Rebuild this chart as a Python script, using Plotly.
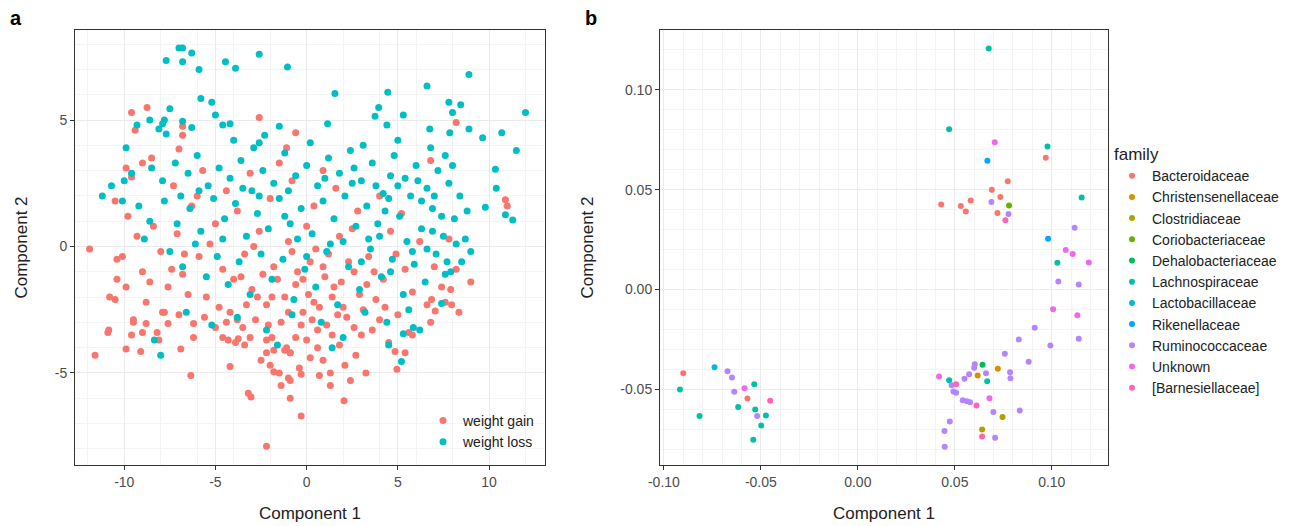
import plotly.graph_objects as go

# ---- panel a: weight gain / weight loss (approximate) ----
gain_pts = [
    (-9.6, 5.3), (-8.75, 5.5), (-9.4, 4.6), (-6.8, 4.75), (-6.8, 4.4), (-7.0, 3.85), (-2.6, 5.1),
    (-0.6, 4.5), (-1.1, 3.9), (-8.5, 3.5), (-9.0, 3.3), (-9.9, 3.1), (-9.6, 2.75), (8.2, 4.9),
    (6.8, 3.4), (10.9, 1.85), (11.0, 1.6), (-11.6, -4.3), (-10.85, -3.3), (-10.9, -3.4), (-10.5, -2.1),
    (-10.4, -1.3), (-10.4, -0.5), (-11.9, -0.1), (-9.9, -4.05), (-9.1, -4.15), (-9.6, -3.5), (-9.5, -2.9),
    (-8.8, -3.05), (-9.0, -3.4), (-8.1, -3.7), (-7.6, -3.05), (-7.9, -2.6), (-6.9, -4.05), (-6.35, -5.1),
    (-6.2, -3.05), (-4.2, -4.75), (-4.6, -3.6), (-4.3, -3.7), (-3.8, -2.9), (-3.75, -3.65), (-3.4, -3.9),
    (-3.1, -3.6), (-3.2, -5.8), (-3.05, -5.95), (-2.2, -7.9), (-2.2, -3.7), (-2.2, -4.2), (-1.8, -4.1),
    (-2.0, -4.7), (-1.8, -4.95), (-1.4, -5.5), (-1.0, -5.2), (-0.9, -5.3), (-0.9, -6.0), (-0.3, -6.7),
    (-0.3, -5.05), (-1.1, -4.0), (-0.9, -4.2), (2.05, -6.1), (1.3, -5.5), (3.25, -5.0), (0.7, -5.1),
    (4.95, -4.85), (4.85, -4.15), (5.4, -4.2), (5.8, -3.5), (7.05, -2.55), (8.35, -2.6), (7.9, -1.7),
    (9.0, -1.4), (7.95, -2.3), (6.85, -2.1),
    (-10.5, 1.8), (-9.8, 1.2), (-9.3, 0.4), (-10.1, -0.4), (-9.0, -1.0), (-8.4, 0.8), (-8.0, -0.2),
    (-7.6, -1.6), (-8.8, -2.2), (-7.1, 0.5), (-6.8, -1.1), (-6.3, 1.6), (-5.9, -0.4), (-5.5, -2.0),
    (-5.0, 0.9), (-4.6, -0.9), (-4.2, -2.6), (-3.8, 1.4), (-3.4, -0.3), (-3.0, -1.7), (-2.6, 0.6),
    (-2.2, -2.3), (-1.8, -0.8), (-1.4, -3.0), (-1.0, 0.2), (-0.6, -1.5), (-0.2, -2.6), (0.2, -0.6),
    (0.6, -3.3), (1.0, -1.2), (1.4, -2.0), (1.8, 0.4), (2.2, -2.8), (2.6, -1.0), (3.0, -3.5),
    (3.4, -0.4), (3.8, -2.1), (4.2, -1.3), (4.6, 0.6), (5.0, -2.7), (5.4, -0.9), (5.8, -1.8),
    (6.2, 0.2), (6.6, -2.3), (7.0, -0.8), (7.4, -1.6), (7.8, 0.3), (8.2, -0.9),
    (-7.3, 2.4), (-5.7, 3.0), (-4.4, 2.2), (-3.1, 2.9), (-2.0, 1.9), (-0.8, 2.6), (0.4, 1.6),
    (1.6, 2.3), (2.8, 1.4), (4.0, 2.0), (5.2, 1.3), (-6.0, 2.0), (-1.5, 3.3), (0.9, 3.0),
    (-9.5, -3.0), (-8.2, -3.4), (-7.0, -2.7), (-6.2, -3.6), (-5.0, -3.2), (-3.9, -3.8), (-2.8, -2.9),
    (-1.9, -3.6), (-0.9, -4.2), (0.0, -3.7), (0.9, -4.5), (1.8, -3.9), (2.7, -4.3), (3.6, -3.3),
    (4.5, -3.8), (-0.4, -4.8), (1.3, -5.0), (2.4, -5.3), (-2.5, -4.5),
    (-0.5, -1.0), (0.1, -1.9), (0.7, -2.4), (1.2, -0.3), (-1.2, -2.0), (-0.3, -3.1), (0.5, -0.1),
    (1.5, -1.6), (2.0, -2.4), (2.3, -0.6), (-1.6, -1.3), (-2.4, -1.1), (3.1, -2.5), (0.3, -2.9),
    (-0.8, -0.2), (1.1, -3.1), (1.9, -1.4), (-2.1, -3.1), (-3.3, -2.3), (2.9, -1.9), (3.7, -1.0),
    (4.3, -2.4), (-4.0, -1.3), (-3.5, -3.2), (-4.8, -2.4), (-6.5, -1.9), (-7.8, -2.6), (-9.9, -1.6),
    (-10.8, -2.0), (-8.6, -1.4), (-5.3, 0.1), (-2.9, 0.0), (0.0, 0.8), (2.5, 0.7), (4.9, -0.3),
    (6.8, -3.0), (7.6, -2.2), (5.6, -3.4), (-1.2, -4.1), (0.6, -4.0),
    (-0.2, -1.3), (0.4, -2.2), (0.9, -0.8), (1.7, -2.7), (-1.0, -2.6), (-0.6, -3.6), (1.4, -3.5),
    (2.6, -3.2), (-1.9, -2.0), (-2.7, -2.0), (-3.6, -1.2), (-4.4, -3.0), (-5.6, -2.8), (-6.7, -0.3),
    (-7.4, -0.9), (3.3, -1.5), (4.0, -2.9), (0.2, -4.4), (-1.5, -5.0), (2.1, -4.7),
]
loss_pts = [
    (-6.8, 7.85), (-7.0, 7.85), (-6.3, 7.65), (-7.7, 7.35), (-6.8, 7.3), (-5.9, 7.0), (-4.45, 7.3),
    (-3.9, 7.05), (-2.6, 7.6), (-1.05, 7.1), (-5.8, 5.85), (-5.2, 5.7), (-5.0, 5.2), (-7.5, 5.45),
    (-8.6, 5.0), (-7.8, 5.0), (-7.9, 4.85), (-8.1, 4.65), (-7.7, 4.45), (-9.3, 4.8), (-6.8, 4.95),
    (-6.3, 4.7), (-4.6, 4.8), (-4.2, 4.85), (-2.3, 4.4), (-1.5, 4.75), (-2.6, 4.1), (-9.9, 3.9),
    (-10.7, 2.4), (-11.2, 2.0), (-10.0, 2.6), (-10.1, 1.8),
    (8.9, 6.8), (6.6, 6.35), (1.55, 6.05), (4.45, 6.1), (7.8, 5.7), (8.45, 5.6), (8.0, 5.3),
    (12.0, 5.3), (3.95, 5.5), (3.75, 5.15), (5.3, 5.2), (1.15, 4.85), (4.4, 4.8), (6.75, 4.65),
    (7.85, 4.5), (8.9, 4.65), (9.65, 4.3), (10.7, 4.5), (11.5, 3.8), (10.35, 3.05), (10.4, 2.3),
    (9.8, 1.55), (11.3, 1.05), (10.9, 1.25),
    (-8.35, -3.7), (-8.0, -4.3), (5.2, -4.55), (5.3, -3.45), (5.85, -3.2), (7.4, -2.25), (9.0, -0.2),
    (4.5, -3.9), (7.6, -1.1), (7.7, -0.6),
    (-8.5, 3.1), (-7.9, 2.6), (-7.2, 3.3), (-6.5, 2.9), (-6.0, 3.6), (-5.4, 2.4), (-4.8, 3.1),
    (-4.2, 2.7), (-3.6, 3.4), (-3.0, 2.2), (-2.4, 3.0), (-1.8, 2.5), (-1.2, 3.7), (-0.6, 2.8),
    (0.0, 3.2), (0.6, 2.4), (1.2, 3.5), (1.8, 2.9), (2.4, 3.8), (3.0, 2.6), (3.6, 3.3), (4.2, 2.1),
    (4.8, 3.6), (5.4, 2.7), (6.0, 3.2), (6.6, 2.3), (7.2, 3.0), (7.8, 2.5), (8.4, 2.0), (8.8, 1.4),
    (-9.2, 1.6), (-8.6, 1.0), (-7.8, 1.8), (-7.1, 0.9), (-6.4, 1.5), (-5.8, 0.6), (-5.1, 1.9),
    (-4.5, 1.1), (-3.9, 1.7), (-3.3, 0.4), (-2.7, 1.3), (-2.1, 0.7), (-1.5, 1.9), (-0.9, 0.9),
    (-0.3, 1.5), (0.3, 0.5), (0.9, 1.8), (1.5, 1.1), (2.1, 2.0), (2.7, 0.8), (3.3, 1.6), (3.9, 0.9),
    (4.5, 1.9), (5.1, 1.2), (5.7, 2.0), (6.3, 0.7), (6.9, 1.5), (7.5, 0.4), (8.1, 1.1), (8.7, 0.3),
    (-7.5, -0.2), (-6.8, -0.8), (-6.1, 0.1), (-5.5, -1.2), (-4.9, -0.4), (-4.3, -1.5), (-3.7, -0.6),
    (-3.1, -1.9), (-2.5, -0.3), (-1.9, -1.3), (-1.3, -0.5), (-0.7, -2.1), (-0.1, -0.9), (0.5, -1.6),
    (1.1, -0.2), (1.7, -2.3), (2.3, -0.8), (2.9, -1.7), (3.5, -0.1), (4.1, -1.2), (4.7, -0.5),
    (5.3, -1.9), (5.9, -0.7), (6.5, -1.4), (7.1, -0.3), (7.9, -1.0), (8.5, -0.6),
    (-6.6, -2.6), (-5.2, -3.1), (-3.8, -2.8), (-2.2, -3.3), (-0.8, -2.7), (0.8, -3.0), (2.0, -3.6),
    (3.2, -2.6), (4.4, -3.0), (5.6, -2.5), (6.2, -3.3), (1.4, -4.0), (-1.6, -3.9),
    (-5.9, 2.2), (-2.9, 3.9), (0.2, 4.1), (3.1, 4.0), (5.0, 4.2), (6.8, 3.9), (7.6, 3.6), (-4.0, 4.2),
    (-9.6, 2.9), (-8.9, 0.3), (2.6, 3.1), (4.6, 2.8), (6.1, 2.6), (1.0, 2.7), (-1.0, 2.2), (3.8, 2.4),
    (5.5, 0.2), (6.6, -0.1), (2.0, 0.2), (-0.5, 0.3), (0.0, -0.4), (3.0, -0.6), (4.0, 0.4), (7.0, 2.0),
    (8.0, 3.2), (-3.5, 2.3), (-6.9, 2.0),
    (5.0, 2.4), (6.3, 1.8), (7.4, 1.2), (4.3, 1.4), (3.4, 0.3), (2.5, 2.5), (1.3, 0.1), (5.8, -0.2),
    (6.9, 0.6), (8.2, 0.1), (4.6, -1.0), (-2.6, 2.0), (-4.6, 0.3), (-1.2, 1.2),
]
tick_a_x = [-10, -5, 0, 5, 10]
tick_a_y = [-5, 0, 5]

# ---- panel b: families ----
families = ["Bacteroidaceae", "Christensenellaceae", "Clostridiaceae", "Coriobacteriaceae",
            "Dehalobacteriaceae", "Lachnospiraceae", "Lactobacillaceae", "Rikenellaceae",
            "Ruminococcaceae", "Unknown", "[Barnesiellaceae]"]
family_colors = ["#F8766D", "#DB8E00", "#AEA200", "#64B200", "#00BD5C", "#00C1A7",
                 "#00BADE", "#00A6FF", "#B385FF", "#EF67EB", "#FF63B6"]
family_pts = {
    "Bacteroidaceae": [(-0.090, -0.042), (-0.0569, -0.0547), (0.043, 0.0426), (0.0531, 0.0418),
                       (0.0557, 0.0391), (0.0582, 0.0446), (0.0691, 0.050), (0.0735, 0.0463),
                       (0.072, 0.0383), (0.0773, 0.0542), (0.0969, 0.066)],
    "Christensenellaceae": [(0.0618, -0.0431), (0.0722, -0.0398)],
    "Clostridiaceae": [(0.0641, -0.0702), (0.0746, -0.0639)],
    "Coriobacteriaceae": [(0.078, 0.0421)],
    "Dehalobacteriaceae": [(0.0643, -0.0378)],
    "Lachnospiraceae": [(-0.0917, -0.0502), (-0.0816, -0.0634), (-0.0617, -0.0589), (-0.0534, -0.0475),
                        (-0.0529, -0.0602), (-0.0474, -0.0632), (-0.0498, -0.0682), (-0.0539, -0.0754),
                        (0.0471, 0.0803), (0.0675, 0.1207), (0.0978, 0.0716), (0.1154, 0.046),
                        (0.1029, 0.0134), (0.0471, -0.0455), (0.0667, -0.046)],
    "Lactobacillaceae": [(-0.0739, -0.039)],
    "Rikenellaceae": [(0.0668, 0.0645), (0.0981, 0.0254)],
    "Ruminococcaceae": [(-0.0672, -0.041), (-0.0649, -0.0441), (-0.0637, -0.0513), (-0.0519, -0.0634),
                        (0.0689, 0.0438), (0.0777, 0.0378), (0.1118, 0.0309), (0.1034, 0.004),
                        (0.1139, 0.0025), (0.0912, -0.0192), (0.0993, -0.0281), (0.1139, -0.0247),
                        (0.083, -0.0251), (0.0758, -0.0323), (0.0881, -0.0363), (0.0785, -0.0415),
                        (0.0787, -0.0445), (0.0603, -0.0375), (0.060, -0.0393), (0.0574, -0.0425),
                        (0.055, -0.0448), (0.0661, -0.042), (0.0484, -0.048), (0.0493, -0.0512),
                        (0.0507, -0.0518), (0.0541, -0.0555), (0.0562, -0.056), (0.0579, -0.0565),
                        (0.0699, -0.0615), (0.0835, -0.0607), (0.0474, -0.0662), (0.0447, -0.0709),
                        (0.0448, -0.0789), (0.0708, -0.0744)],
    "Unknown": [(0.0706, 0.0737), (0.1072, 0.0197), (0.1108, 0.0177), (0.1191, 0.0135),
                (0.1007, -0.0099), (0.1132, -0.0129), (0.0419, -0.0436), (-0.0584, -0.0495),
                (0.0679, -0.0545)],
    "[Barnesiellaceae]": [(0.0761, 0.0346), (0.0507, -0.0475), (0.0612, -0.0582), (0.0641, -0.0737),
                          (-0.0452, -0.0558)],
}
tick_b_x = [-0.10, -0.05, 0.0, 0.05, 0.10]
tick_b_y = [-0.05, 0.0, 0.05, 0.10]

W, H, OFF = 1296, 526, 8  # page body margin shifts the figure by ~8px


def px_x(p):
    return (p - OFF) / W


def px_y(p):
    return 1 - (p - OFF) / H


def labels(vals, fmt):
    return [fmt.format(v) for v in vals]


fig = go.Figure()
fig.add_trace(go.Scatter(x=[p[0] for p in gain_pts], y=[p[1] for p in gain_pts], mode="markers",
                         name="weight gain", marker=dict(color="#F8766D", size=7),
                         xaxis="x", yaxis="y", legend="legend2"))
fig.add_trace(go.Scatter(x=[p[0] for p in loss_pts], y=[p[1] for p in loss_pts], mode="markers",
                         name="weight loss", marker=dict(color="#00BFC4", size=7),
                         xaxis="x", yaxis="y", legend="legend2"))
for fam, col in zip(families, family_colors):
    pts = family_pts[fam]
    fig.add_trace(go.Scatter(x=[p[0] for p in pts], y=[p[1] for p in pts], mode="markers",
                             name=fam, marker=dict(color=col, size=6),
                             xaxis="x2", yaxis="y2", legend="legend"))

font = dict(family="Liberation Sans, Arial", color="#333333")
ax = dict(showline=True, mirror=True, linecolor="#333333", linewidth=1, gridcolor="#EBEBEB",
          ticks="outside", ticklen=4, tickcolor="#333333", zeroline=False, automargin=False,
          tickfont=dict(size=14, color="#4D4D4D"), title_font=dict(size=17, color="#222"),
          minor=dict(showgrid=True, gridcolor="#F4F4F4"))
ydom = [px_y(465), px_y(30)]

fig.update_layout(
    width=W, height=H, margin=dict(l=0, r=0, t=0, b=0),
    plot_bgcolor="white", paper_bgcolor="white", font=font,
    xaxis=dict(ax, domain=[px_x(75), px_x(545)], range=[-12.7, 13.07],
               tickvals=tick_a_x, ticktext=labels(tick_a_x, "{:d}"),
               title=dict(text="Component 1", standoff=18)),
    yaxis=dict(ax, domain=ydom, range=[-8.64, 8.56],
               tickvals=tick_a_y, ticktext=labels(tick_a_y, "{:d}"),
               title=dict(text="Component 2", standoff=22)),
    xaxis2=dict(ax, domain=[px_x(660), px_x(1108)], range=[-0.102, 0.129],
                tickvals=tick_b_x, ticktext=labels(tick_b_x, "{:.2f}"), anchor="y2",
                title=dict(text="Component 1", standoff=18)),
    yaxis2=dict(ax, domain=ydom, range=[-0.088, 0.130],
                tickvals=tick_b_y, ticktext=labels(tick_b_y, "{:.2f}"), anchor="x2",
                title=dict(text="Component 2", standoff=22)),
    legend=dict(x=px_x(1112), y=px_y(138), xanchor="left", yanchor="top",
                title=dict(text="family", font=dict(size=17, color="#222")),
                font=dict(size=14, color="#222"), itemsizing="trace", tracegroupgap=0,
                bgcolor="rgba(0,0,0,0)"),
    legend2=dict(x=px_x(540), y=px_y(458), xanchor="right", yanchor="bottom",
                 font=dict(size=14, color="#222"), bgcolor="rgba(255,255,255,0)"),
    annotations=[
        dict(text="<b>a</b>", x=px_x(8), y=px_y(5), xref="paper", yref="paper",
             xanchor="left", yanchor="top", showarrow=False, font=dict(size=20, color="black")),
        dict(text="<b>b</b>", x=px_x(583), y=px_y(5), xref="paper", yref="paper",
             xanchor="left", yanchor="top", showarrow=False, font=dict(size=20, color="black")),
    ],
)

fig.write_html("out.html")
